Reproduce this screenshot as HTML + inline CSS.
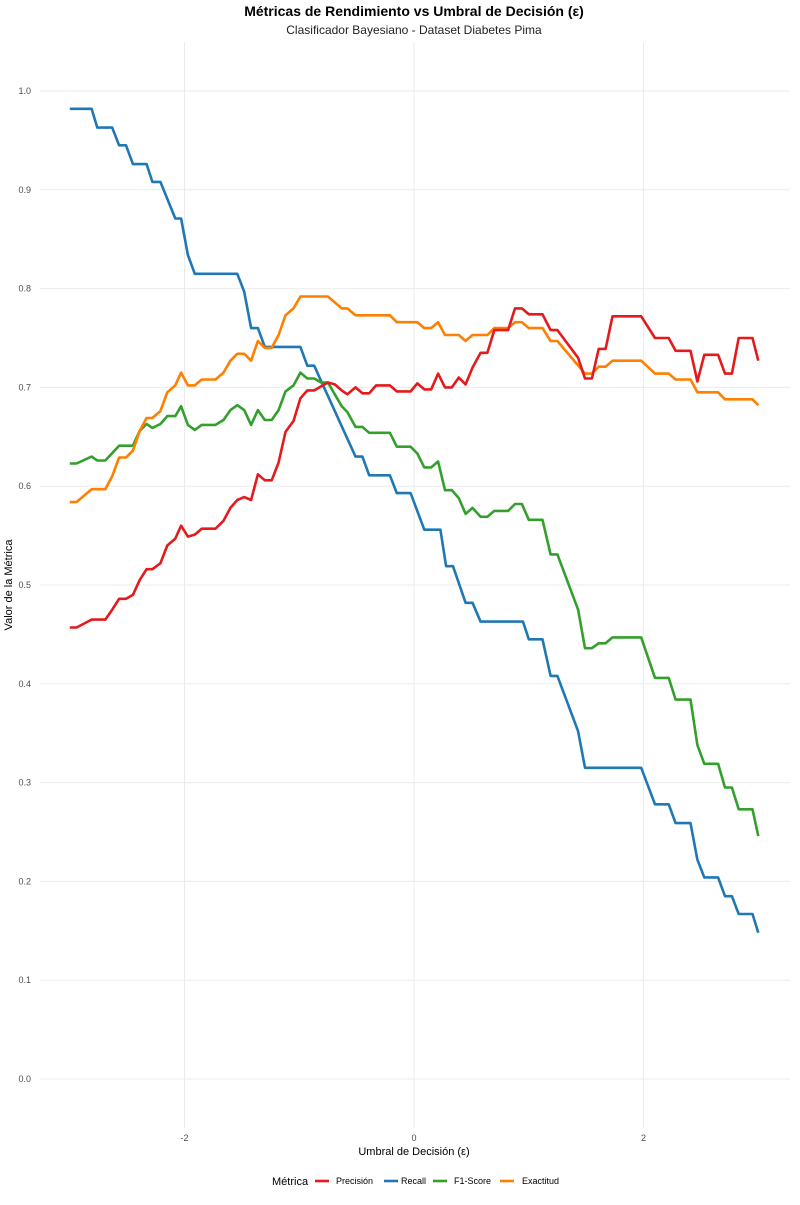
<!DOCTYPE html>
<html><head><meta charset="utf-8"><style>
body{margin:0;background:#fff;}
svg text{font-family:"Liberation Sans",sans-serif;}
</style></head><body>
<svg id="chart" width="800" height="1200" xmlns="http://www.w3.org/2000/svg">
<rect x="0" y="0" width="800" height="1200" fill="#fff"/>
<text x="414" y="16" text-anchor="middle" font-size="14" font-weight="bold" fill="#000">Métricas de Rendimiento vs Umbral de Decisión (ε)</text>
<text x="414" y="34" text-anchor="middle" font-size="12" fill="#222">Clasificador Bayesiano - Dataset Diabetes Pima</text>
<g id="grid"></g>
<g id="ylabels"></g>
<g id="xlabels"></g>
<g id="series"></g>
<text x="414" y="1155" text-anchor="middle" font-size="11" fill="#000">Umbral de Decisión (ε)</text>
<text transform="translate(12,585) rotate(-90)" text-anchor="middle" font-size="11" fill="#000">Valor de la Métrica</text>
<g id="legend"></g>
</svg>
<script>
const yTicks=[0,0.1,0.2,0.3,0.4,0.5,0.6,0.7,0.8,0.9,1.0];
const yTickLabels=["0.0","0.1","0.2","0.3","0.4","0.5","0.6","0.7","0.8","0.9","1.0"];
const xTicks=[-2,0,2];
const xTickLabels=["-2","0","2"];
const seriesNames=["Precisión","Recall","F1-Score","Exactitud"];
const seriesColors=["#E41A1C","#1F78B4","#33A02C","#FF7F00"];

const precX=[-3,-2.94,-2.81,-2.69,-2.63,-2.57,-2.51,-2.45,-2.39,-2.33,-2.28,-2.21,-2.15,-2.08,-2.03,-1.97,-1.91,-1.85,-1.73,-1.66,-1.6,-1.54,-1.48,-1.42,-1.36,-1.3,-1.24,-1.18,-1.12,-1.05,-0.99,-0.93,-0.87,-0.81,-0.75,-0.69,-0.63,-0.58,-0.51,-0.45,-0.39,-0.33,-0.21,-0.15,-0.03,0.03,0.09,0.15,0.21,0.27,0.33,0.39,0.45,0.51,0.58,0.64,0.7,0.82,0.88,0.94,1.0,1.12,1.19,1.25,1.43,1.49,1.55,1.61,1.67,1.73,1.98,2.1,2.22,2.28,2.41,2.47,2.53,2.65,2.71,2.77,2.83,2.95,3.0];
const precY=[0.457,0.457,0.465,0.465,0.475,0.486,0.486,0.49,0.505,0.516,0.516,0.522,0.54,0.547,0.56,0.549,0.551,0.557,0.557,0.565,0.578,0.586,0.589,0.586,0.612,0.606,0.606,0.624,0.655,0.666,0.689,0.697,0.697,0.701,0.705,0.703,0.697,0.693,0.7,0.694,0.694,0.702,0.702,0.696,0.696,0.704,0.698,0.698,0.714,0.7,0.7,0.71,0.703,0.72,0.735,0.735,0.758,0.758,0.78,0.78,0.774,0.774,0.758,0.758,0.73,0.709,0.709,0.739,0.739,0.772,0.772,0.75,0.75,0.737,0.737,0.706,0.733,0.733,0.714,0.714,0.75,0.75,0.727];

const recX=[-3,-2.81,-2.76,-2.63,-2.57,-2.51,-2.45,-2.33,-2.28,-2.21,-2.08,-2.03,-1.97,-1.91,-1.54,-1.48,-1.42,-1.36,-1.3,-0.99,-0.93,-0.87,-0.51,-0.45,-0.39,-0.21,-0.15,-0.03,0.09,0.23,0.28,0.34,0.45,0.51,0.58,0.95,1.0,1.12,1.19,1.25,1.43,1.49,1.98,2.1,2.22,2.28,2.41,2.47,2.53,2.65,2.71,2.77,2.83,2.95,3.0];
const recY=[0.982,0.982,0.963,0.963,0.945,0.945,0.926,0.926,0.908,0.908,0.871,0.871,0.834,0.815,0.815,0.797,0.76,0.76,0.741,0.741,0.722,0.722,0.63,0.63,0.611,0.611,0.593,0.593,0.556,0.556,0.519,0.519,0.482,0.482,0.463,0.463,0.445,0.445,0.408,0.408,0.352,0.315,0.315,0.278,0.278,0.259,0.259,0.222,0.204,0.204,0.185,0.185,0.167,0.167,0.148];

const f1X=[-3,-2.94,-2.81,-2.76,-2.69,-2.57,-2.45,-2.39,-2.33,-2.28,-2.21,-2.15,-2.08,-2.03,-1.97,-1.91,-1.85,-1.73,-1.66,-1.6,-1.54,-1.48,-1.42,-1.36,-1.3,-1.24,-1.18,-1.12,-1.05,-0.99,-0.93,-0.87,-0.81,-0.75,-0.63,-0.58,-0.51,-0.45,-0.39,-0.21,-0.15,-0.03,0.03,0.09,0.15,0.21,0.27,0.33,0.39,0.45,0.51,0.58,0.64,0.7,0.82,0.88,0.94,1.0,1.12,1.19,1.25,1.43,1.49,1.55,1.61,1.67,1.73,1.98,2.1,2.22,2.28,2.41,2.47,2.53,2.65,2.71,2.77,2.83,2.95,3.0];
const f1Y=[0.623,0.623,0.63,0.626,0.626,0.641,0.641,0.656,0.663,0.659,0.663,0.671,0.671,0.681,0.662,0.657,0.662,0.662,0.667,0.677,0.682,0.677,0.662,0.677,0.667,0.667,0.677,0.696,0.702,0.715,0.709,0.709,0.705,0.705,0.681,0.675,0.66,0.66,0.654,0.654,0.64,0.64,0.633,0.619,0.619,0.625,0.596,0.596,0.588,0.572,0.578,0.569,0.569,0.575,0.575,0.582,0.582,0.566,0.566,0.531,0.531,0.475,0.436,0.436,0.441,0.441,0.447,0.447,0.406,0.406,0.384,0.384,0.338,0.319,0.319,0.295,0.295,0.273,0.273,0.246];

const accX=[-3,-2.94,-2.81,-2.69,-2.63,-2.57,-2.51,-2.45,-2.39,-2.33,-2.28,-2.21,-2.15,-2.08,-2.03,-1.97,-1.91,-1.85,-1.73,-1.66,-1.6,-1.54,-1.48,-1.42,-1.36,-1.3,-1.24,-1.18,-1.12,-1.05,-0.99,-0.75,-0.63,-0.58,-0.51,-0.21,-0.15,0.03,0.09,0.15,0.21,0.27,0.39,0.45,0.51,0.64,0.7,0.82,0.88,0.94,1.0,1.12,1.19,1.25,1.49,1.55,1.61,1.67,1.73,1.98,2.1,2.22,2.28,2.41,2.47,2.65,2.71,2.95,3.0];
const accY=[0.584,0.584,0.597,0.597,0.61,0.629,0.629,0.636,0.656,0.669,0.669,0.676,0.695,0.702,0.715,0.702,0.702,0.708,0.708,0.715,0.727,0.734,0.734,0.727,0.747,0.74,0.74,0.753,0.773,0.78,0.792,0.792,0.78,0.78,0.773,0.773,0.766,0.766,0.76,0.76,0.766,0.753,0.753,0.747,0.753,0.753,0.76,0.76,0.766,0.766,0.76,0.76,0.747,0.747,0.714,0.714,0.721,0.721,0.727,0.727,0.714,0.714,0.708,0.708,0.695,0.695,0.688,0.688,0.682];

const NS="http://www.w3.org/2000/svg";
function xs(v){return 414+v*114.75;}
function ys(v){return 1079-v*988;}
function mk(tag,attrs,parent){const e=document.createElementNS(NS,tag);for(const k in attrs)e.setAttribute(k,attrs[k]);parent.appendChild(e);return e;}
const grid=document.getElementById('grid');
yTicks.forEach((t,i)=>{
  const l=mk('line',{x1:40,x2:790,y1:ys(t),y2:ys(t),stroke:'#ebebeb','stroke-width':1},grid);
  
  
  const tx=mk('text',{x:31,y:ys(t)+3,'text-anchor':'end','font-size':9,fill:'#4d4d4d'},document.getElementById('ylabels'));
  tx.textContent=yTickLabels[i];
  
  
});
xTicks.forEach((t,i)=>{
  const l=mk('line',{x1:xs(t),x2:xs(t),y1:42,y2:1128,stroke:'#ebebeb','stroke-width':1},grid);
  
  
  const tx=mk('text',{x:xs(t),y:1141,'text-anchor':'middle','font-size':9,fill:'#4d4d4d'},document.getElementById('xlabels'));
  tx.textContent=xTickLabels[i];
  
  
});
const allX=[precX,recX,f1X,accX], allY=[precY,recY,f1Y,accY];
const sg=document.getElementById('series');
[1,2,3,0].forEach(s=>{
  const d=allX[s].map((x,i)=>(i?'L':'M')+xs(x).toFixed(1)+','+ys(allY[s][i]).toFixed(1)).join('');
  const p=mk('path',{d:d,fill:'none',stroke:seriesColors[s],'stroke-width':2.6,'stroke-linejoin':'round'},sg);
  
  
});
const lg=document.getElementById('legend');
const lt=mk('text',{x:272,y:1185,'font-size':11,fill:'#000'},lg);
lt.textContent='Métrica';


const lx=[315,384,433,500];
const ltx=[336,401,454,522];
seriesNames.forEach((n,i)=>{
  const l=mk('line',{x1:lx[i],x2:lx[i]+14,y1:1181,y2:1181,stroke:seriesColors[i],'stroke-width':2.6},lg);
  
  
  const t=mk('text',{x:ltx[i],y:1184,'font-size':9,fill:'#000'},lg);
  t.textContent=n;
  
  
});
</script>
</body></html>
